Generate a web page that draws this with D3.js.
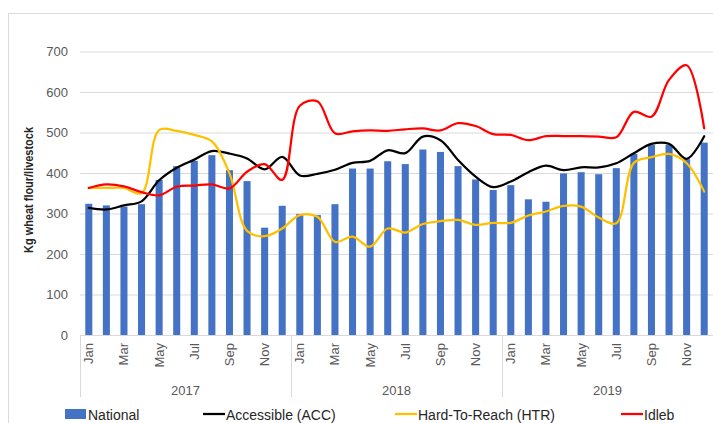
<!DOCTYPE html>
<html><head><meta charset="utf-8">
<script src="https://cdn.jsdelivr.net/npm/d3@7"></script>
<style>body{margin:0;background:#fff;} svg{display:block;font-family:"Liberation Sans",Arial,sans-serif;}</style>
</head><body>
<svg id="c" width="713" height="423"></svg>
<script>
const years = ["2017","2018","2019"];
const monthNames = ["Jan","Feb","Mar","Apr","May","Jun","Jul","Aug","Sep","Oct","Nov","Dec"];
const categories = years.flatMap(y => monthNames.map(m => y + "-" + m));
const national = [324,320,317,323,383,417,430,444,407,380,265,319, 299,296,323,411,411,429,422,458,452,417,384,358, 370,335,329,399,402,397,412,447,469,469,434,475];
const accessible = [314,310,320,330,382,413,433,454,448,436,409,440, 394,398,408,425,430,456,449,490,481,432,391,365, 379,402,418,407,414,414,424,449,472,472,435,491];
const hardToReach = [363,363,363,350,506,504,494,478,399,257,244,263, 296,292,230,243,218,263,253,274,281,284,272,277, 277,295,305,319,317,290,276,425,439,447,424,354];
const idleb = [363,372,367,353,345,366,369,372,362,403,422,383, 566,577,498,503,505,504,508,510,505,523,516,496, 494,481,491,491,491,490,488,551,539,630,666,510];
const yTicks = [0,100,200,300,400,500,600,700];
const seriesNames = ["National","Accessible (ACC)","Hard-To-Reach (HTR)","Idleb"];

const svg = d3.select("#c");
const L = 80, R = 713, T = 51.5, B = 335;
const x = d3.scaleBand().domain(categories).range([L, R]).paddingInner(0.6).paddingOuter(0.3);
const y = d3.scaleLinear().domain([0, 700]).range([B, T]);
const cx = c => x(c) + x.bandwidth() / 2;

// frame
svg.append("path").attr("d", "M8.5,423 V13.5 H713").attr("fill","none").attr("stroke","#d9d9d9");

// gridlines + y labels
const yAxis = d3.axisLeft(y).tickValues(yTicks).tickSize(-(R - L)).tickPadding(12);
const ga = svg.append("g").attr("transform", `translate(${L},0)`).call(yAxis);
ga.select(".domain").remove();
ga.selectAll(".tick line").attr("stroke", "#d9d9d9");
ga.selectAll(".tick text").attr("fill", "#595959").style("font-size", "13px");

// y title
svg.append("text").attr("transform", "translate(33,190) rotate(-90)").attr("text-anchor","middle")
  .attr("textLength", 126).attr("lengthAdjust", "spacingAndGlyphs")
  .style("font-size","13px").style("font-weight","bold").attr("fill","#262626").text("Kg wheat flour/livestock");

// bars
svg.append("g").selectAll("rect").data(national).join("rect")
  .attr("x", (d,i) => x(categories[i])).attr("width", x.bandwidth())
  .attr("y", d => y(d)).attr("height", d => B - y(d)).attr("fill", "#4472C4");

// category axis
const xa = svg.append("g");
xa.append("line").attr("x1", L).attr("x2", R).attr("y1", B + 0.5).attr("y2", B + 0.5).attr("stroke", "#d9d9d9");
const step = x.step();
years.forEach((yr, k) => {
  const x0 = L + k * 12 * step;
  xa.append("line").attr("x1", Math.round(x0) + 0.5).attr("x2", Math.round(x0) + 0.5).attr("y1", B).attr("y2", 397).attr("stroke", "#d9d9d9");
  xa.append("text").attr("x", x0 + 6 * step).attr("y", 395).attr("text-anchor", "middle")
    .attr("fill", "#595959").style("font-size", "13px").text(yr);
});
categories.forEach((c, i) => {
  if (i % 2 === 0) {
    xa.append("text").attr("transform", `translate(${cx(c) + 4.5},343) rotate(-90)`).attr("text-anchor", "end")
      .attr("fill", "#595959").style("font-size", "13px").text(monthNames[i % 12]);
  }
});

// lines
const line = d3.line().x((d,i) => cx(categories[i])).y(d => y(d)).curve(d3.curveCatmullRom.alpha(0.5));
const lineData = [[accessible, "#000000"], [hardToReach, "#FFC000"], [idleb, "#FF0000"]];
lineData.forEach(([vals, col]) => {
  svg.append("path").datum(vals).attr("d", line).attr("fill", "none").attr("stroke", col)
    .attr("stroke-width", 2.25).attr("stroke-linejoin", "round").attr("stroke-linecap", "round");
});

// legend
const lg = svg.append("g").style("font-size", "14px").attr("fill", "#262626");
lg.append("rect").attr("x", 65).attr("y", 409).attr("width", 21).attr("height", 10).attr("fill", "#4472C4");
lg.append("text").attr("x", 88).attr("y", 420).text(seriesNames[0]);
const lx = [[203, seriesNames[1], "#000000"], [395, seriesNames[2], "#FFC000"], [621, seriesNames[3], "#FF0000"]];
lx.forEach(([px, name, col]) => {
  lg.append("line").attr("x1", px).attr("x2", px + 22).attr("y1", 414).attr("y2", 414).attr("stroke", col).attr("stroke-width", 2.25);
  lg.append("text").attr("x", px + 23).attr("y", 420).text(name);
});
</script>
</body></html>
